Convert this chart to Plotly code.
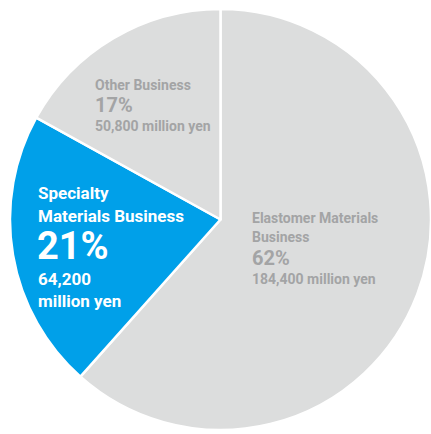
import plotly.graph_objects as go

# sales by business segment (million yen)
segments = ["Elastomer Materials Business", "Specialty Materials Business", "Other Business"]
label_lines = [["Elastomer Materials", "Business"], ["Specialty", "Materials Business"], ["Other Business"]]
sales = [184400, 64200, 50800]
shares = [62, 21, 17]
slice_colors = ["#dcdddd", "#00a0e9", "#dcdddd"]

W, H = 431, 434
FONT = "Roboto"
GRAY_TEXT = "#a3a4a5"


def px_note(x, y, text, size, color):
    # x, y in pixels from top-left; y is the vertical centre of the line
    return dict(
        x=x / W, y=1 - y / H, xref="paper", yref="paper",
        xanchor="left", yanchor="middle", align="left",
        text=f"<b>{text}</b>", showarrow=False,
        font=dict(family=FONT, size=size, color=color),
    )


fig = go.Figure()

fig.add_trace(
    go.Pie(
        labels=segments,
        values=sales,
        sort=False,
        direction="clockwise",
        rotation=0,
        textinfo="none",
        hoverinfo="none",
        marker=dict(colors=slice_colors, line=dict(color="white", width=2.5)),
        domain=dict(x=[10 / W, 1], y=[4 / H, 425 / H]),
        showlegend=False,
    )
)

notes = []

# Elastomer
notes += [
    px_note(250, 217.5, label_lines[0][0], 14, GRAY_TEXT),
    px_note(250, 236.5, label_lines[0][1], 14, GRAY_TEXT),
    px_note(250, 257.5, f"{shares[0]}%", 20, GRAY_TEXT),
    px_note(250, 279, f"{sales[0]:,} million yen", 14, GRAY_TEXT),
]

# Specialty
notes += [
    px_note(36, 193, label_lines[1][0], 17, "white"),
    px_note(36, 216, label_lines[1][1], 17, "white"),
    px_note(35, 246.5, f"{shares[1]}%", 38, "white"),
    px_note(36, 279, f"{sales[1]:,}", 17, "white"),
    px_note(36, 301, "million yen", 17, "white"),
]

# Other
notes += [
    px_note(93, 84.5, label_lines[2][0], 14, GRAY_TEXT),
    px_note(93, 105.5, f"{shares[2]}%", 20, GRAY_TEXT),
    px_note(93, 125.5, f"{sales[2]:,} million yen", 14, GRAY_TEXT),
]

fig.update_layout(
    width=W,
    height=H,
    margin=dict(l=0, r=0, t=0, b=0),
    paper_bgcolor="white",
    plot_bgcolor="white",
    annotations=notes,
)

fig.write_html(
    "out.html",
    config={"displayModeBar": False},
    post_script="document.body.style.margin = '0';",
)
